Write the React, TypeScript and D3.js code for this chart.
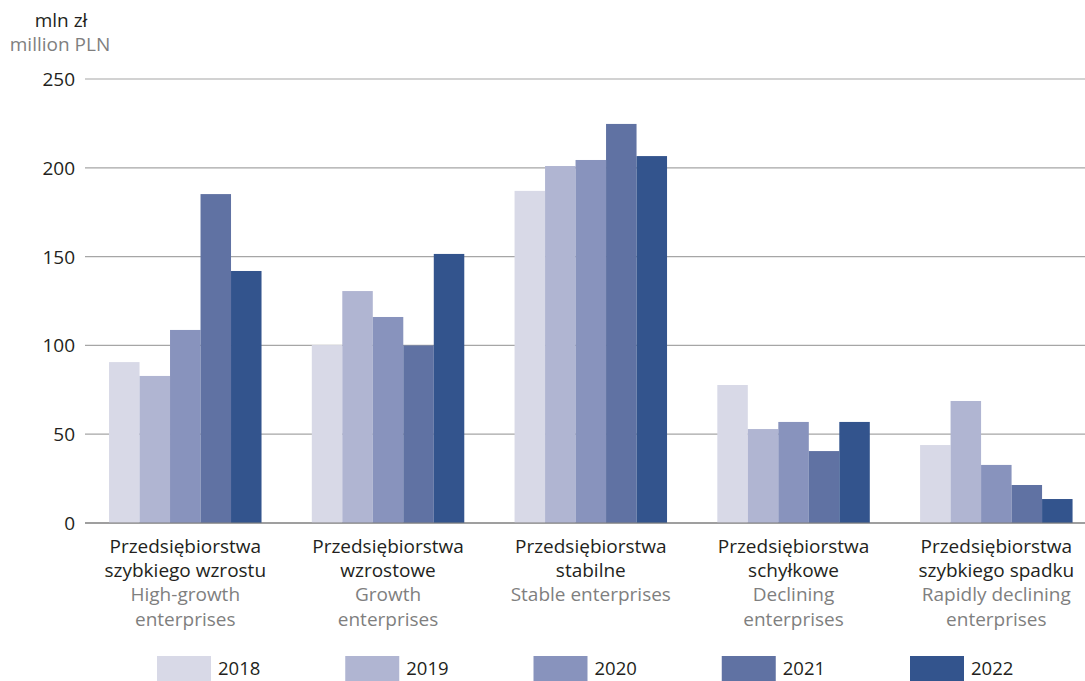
import React from "react";
import * as d3 from "d3";

const categoriesPL = [
  ["Przedsiębiorstwa", "szybkiego wzrostu"],
  ["Przedsiębiorstwa", "wzrostowe"],
  ["Przedsiębiorstwa", "stabilne"],
  ["Przedsiębiorstwa", "schyłkowe"],
  ["Przedsiębiorstwa", "szybkiego spadku"],
];
const categoriesEN = [
  ["High-growth", "enterprises"],
  ["Growth", "enterprises"],
  ["Stable enterprises"],
  ["Declining", "enterprises"],
  ["Rapidly declining", "enterprises"],
];
const years = ["2018", "2019", "2020", "2021", "2022"];
const v2018 = [90.6, 100.2, 187, 77.7, 43.9];
const v2019 = [82.8, 130.6, 201, 52.9, 68.7];
const v2020 = [108.7, 116, 204.4, 56.9, 32.7];
const v2021 = [185.2, 100, 224.7, 40.5, 21.4];
const v2022 = [141.9, 151.5, 206.6, 56.9, 13.5];
const series = [v2018, v2019, v2020, v2021, v2022];
const colors = ["#d8d9e7", "#b0b5d2", "#8893bd", "#6072a3", "#33548d"];
const yTicks = [0, 50, 100, 150, 200, 250];

export default function App() {
  const W = 1085, H = 681;
  const y = d3.scaleLinear().domain([0, 250]).range([523, 79]);
  const x0 = d3.scaleBand<number>().domain(d3.range(5)).range([83.9, 1097.7]).paddingInner(0.248).paddingOuter(0.124);
  const x1 = d3.scaleBand<string>().domain(years).range([0, x0.bandwidth()]).padding(0);
  const font = "'Open Sans', sans-serif";
  const dark = "#231f20";
  const grey = "#7f7f7f";
  const fs = 19;
  const legendX = d3.scaleLinear().domain([0, 4]).range([157, 910]);
  return (
    <svg width={W} height={H} style={{ position: "absolute", left: 0, top: 0 }} fontFamily={font}>
      <text x={61} y={27} textAnchor="middle" fontSize={fs} fill={dark}>mln zł</text>
      <text x={60} y={51} textAnchor="middle" fontSize={fs} fill={grey}>million PLN</text>
      {yTicks.map((t) => (
        <g key={t}>
          <line x1={85} x2={1085} y1={y(t)} y2={y(t)} stroke={t === 0 ? "#808080" : "#a6a6a6"} strokeWidth={1.2} />
          <text x={75} y={y(t) + 7} textAnchor="end" fontSize={fs} fill={dark}>{t}</text>
        </g>
      ))}
      {categoriesPL.map((_, i) => (
        <g key={i} transform={`translate(${x0(i)},0)`}>
          {years.map((yr, j) => (
            <rect key={yr} x={x1(yr)} y={y(series[j][i])} width={x1.bandwidth()} height={y(0) - y(series[j][i])} fill={colors[j]} />
          ))}
        </g>
      ))}
      <line x1={85} x2={1085} y1={y(0)} y2={y(0)} stroke="#808080" strokeWidth={1.2} />
      {categoriesPL.map((lines, i) => {
        const cx = (x0(i) as number) + x0.bandwidth() / 2;
        const all = [...lines.map((t) => ({ t, c: dark })), ...categoriesEN[i].map((t) => ({ t, c: grey }))];
        return (
          <g key={i}>
            {all.map((l, k) => (
              <text key={k} x={cx} y={553 + k * 24.2} textAnchor="middle" fontSize={fs} fill={l.c}>{l.t}</text>
            ))}
          </g>
        );
      })}
      {years.map((yr, j) => (
        <g key={yr}>
          <rect x={legendX(j)} y={656} width={54} height={25} fill={colors[j]} />
          <text x={legendX(j) + 61} y={675} fontSize={18.5} fill={dark}>{yr}</text>
        </g>
      ))}
    </svg>
  );
}
